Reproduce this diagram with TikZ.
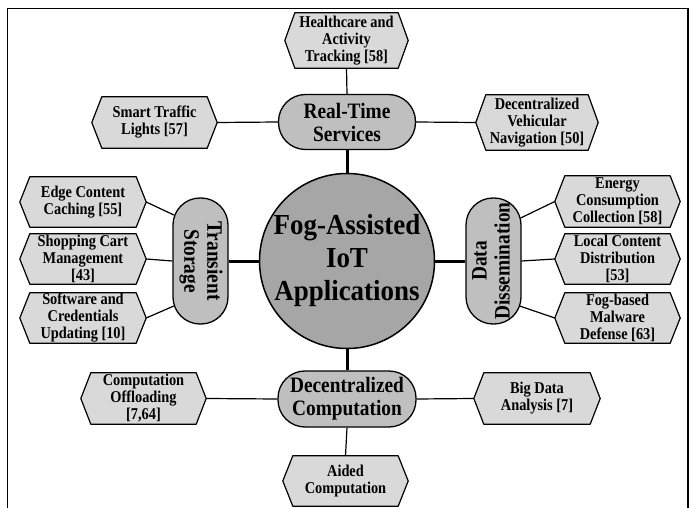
\documentclass[tikz,border=0pt]{standalone}
\usepackage{fontspec}
\setmainfont{Liberation Serif}
\newfontfamily\hexfamily[FakeStretch=0.87]{Liberation Serif}
\newfontfamily\midfamily[FakeStretch=0.88]{Liberation Serif}
\newfontfamily\corefamily[FakeStretch=0.93]{Liberation Serif}
\usetikzlibrary{calc}
\pgfdeclarelayer{bg}
\pgfsetlayers{bg,main}
\definecolor{hexfill}{gray}{0.85}
\definecolor{midfill}{gray}{0.75}
\definecolor{corefill}{gray}{0.65}
\tikzset{
  hexlabel/.style={inner sep=0pt, align=center, font=\hexfamily\fontsize{16.5}{17}\selectfont\bfseries},
  hexshape/.style={draw=black, line width=1.2pt, fill=hexfill, line join=round},
  stadium/.style={draw=black, line width=1.3pt, fill=midfill, rounded corners=27pt, inner sep=0pt, align=center, font=\midfamily\fontsize{22}{23}\selectfont\bfseries},
  thinlink/.style={line width=1.2pt},
  boldlink/.style={line width=3pt},
  framestyle/.style={line width=1.2pt}
}
\newcommand\hexnode[6]{%
  \node[hexlabel, minimum width=#4, minimum height=#5] (#1) at (#2,#3) {#6};
  \begin{pgfonlayer}{bg}
    \draw[hexshape] (#1.west) -- ([xshift=10pt]#1.north west) -- ([xshift=-10pt]#1.north east) -- (#1.east) -- ([xshift=-10pt]#1.south east) -- ([xshift=10pt]#1.south west) -- cycle;
  \end{pgfonlayer}}
\begin{document}
\begin{tikzpicture}[x=1pt,y=-1pt]
\useasboundingbox (0,0) rectangle (694,508);
% frame
\coordinate (fbl) at (7.5,510);
\coordinate (ftl) at (7.5,8.5);
\coordinate (ftr) at (688,8.5);
\coordinate (fbr) at (688,510);
\draw[framestyle] (fbl) -- (ftl) -- (ftr) -- (fbr);

% core
\node[circle, draw=black, line width=1.5pt, fill=corefill, minimum size=175pt, inner sep=0pt, align=center, font=\corefamily\fontsize{29}{33}\selectfont\bfseries] (core) at (347,261) {Fog-Assisted\\IoT\\Applications};

% category stadiums
\node[stadium, minimum width=137pt, minimum height=55pt] (rt) at (347,122) {Real-Time\\Services};
\node[stadium, minimum width=138pt, minimum height=56pt] (dc) at (347,399) {Decentralized\\Computation};
\node[stadium, minimum width=55pt, minimum height=126pt] (ts) at (200.5,261) {\rotatebox{-90}{\begin{tabular}{@{}c@{}}Transient\\Storage\end{tabular}}};
\node[stadium, minimum width=55pt, minimum height=126pt] (dd) at (493.5,261) {\rotatebox{90}{\begin{tabular}{@{}c@{}}Data\\Dissemination\end{tabular}}};

% applications
\hexnode{hc}{346.5}{40.5}{123pt}{55pt}{Healthcare and\\Activity\\Tracking [58]}
\hexnode{stl}{154.5}{122.5}{125pt}{51pt}{Smart Traffic\\Lights [57]}
\hexnode{dvn}{537}{122.5}{122pt}{55pt}{Decentralized\\Vehicular\\Navigation [50]}
\hexnode{ecc}{83}{202}{126pt}{50pt}{Edge Content\\Caching [55]}
\hexnode{scm}{83}{259}{126pt}{50pt}{Shopping Cart\\Management\\{[43]}}
\hexnode{scu}{83}{318}{126pt}{50pt}{Software and\\Credentials\\Updating [10]}
\hexnode{ecc2}{617.5}{201.5}{125pt}{51pt}{Energy\\Consumption\\Collection [58]}
\hexnode{lcd}{617.5}{259}{125pt}{50pt}{Local Content\\Distribution\\{[53]}}
\hexnode{fmd}{617.5}{318}{125pt}{50pt}{Fog-based\\Malware\\Defense [63]}
\hexnode{co}{143.5}{398.5}{125pt}{51pt}{Computation\\Offloading\\{[7,64]}}
\hexnode{bda}{537}{398.5}{126pt}{51pt}{Big Data\\Analysis [7]}
\hexnode{ac}{345.5}{481}{125pt}{50pt}{Aided\\Computation}

% bold links
\draw[boldlink] (rt.south) -- (core.north);
\draw[boldlink] (core.south) -- (dc.north);
\draw[boldlink] (ts.east) -- (core.west);
\draw[boldlink] (core.east) -- (dd.west);

% thin links
\draw[thinlink] (hc.south) -- (rt.north);
\draw[thinlink] (stl.east) -- (rt.west);
\draw[thinlink] (rt.east) -- (dvn.west);
\draw[thinlink] (co.east) -- (dc.west);
\draw[thinlink] (dc.east) -- (bda.west);
\draw[thinlink] (dc.south) -- (ac.north);
\draw[thinlink] (ecc.east) -- ([xshift=1.5pt,yshift=46pt]ts.west);
\draw[thinlink] (scm.east) -- (ts.west);
\draw[thinlink] (scu.east) -- ([xshift=1.5pt,yshift=-45pt]ts.west);
\draw[thinlink] (ecc2.west) -- ([xshift=-1pt,yshift=43pt]dd.east);
\draw[thinlink] (lcd.west) -- (dd.east);
\draw[thinlink] (fmd.west) -- ([xshift=-2pt,yshift=-45pt]dd.east);
\end{tikzpicture}
\end{document}
